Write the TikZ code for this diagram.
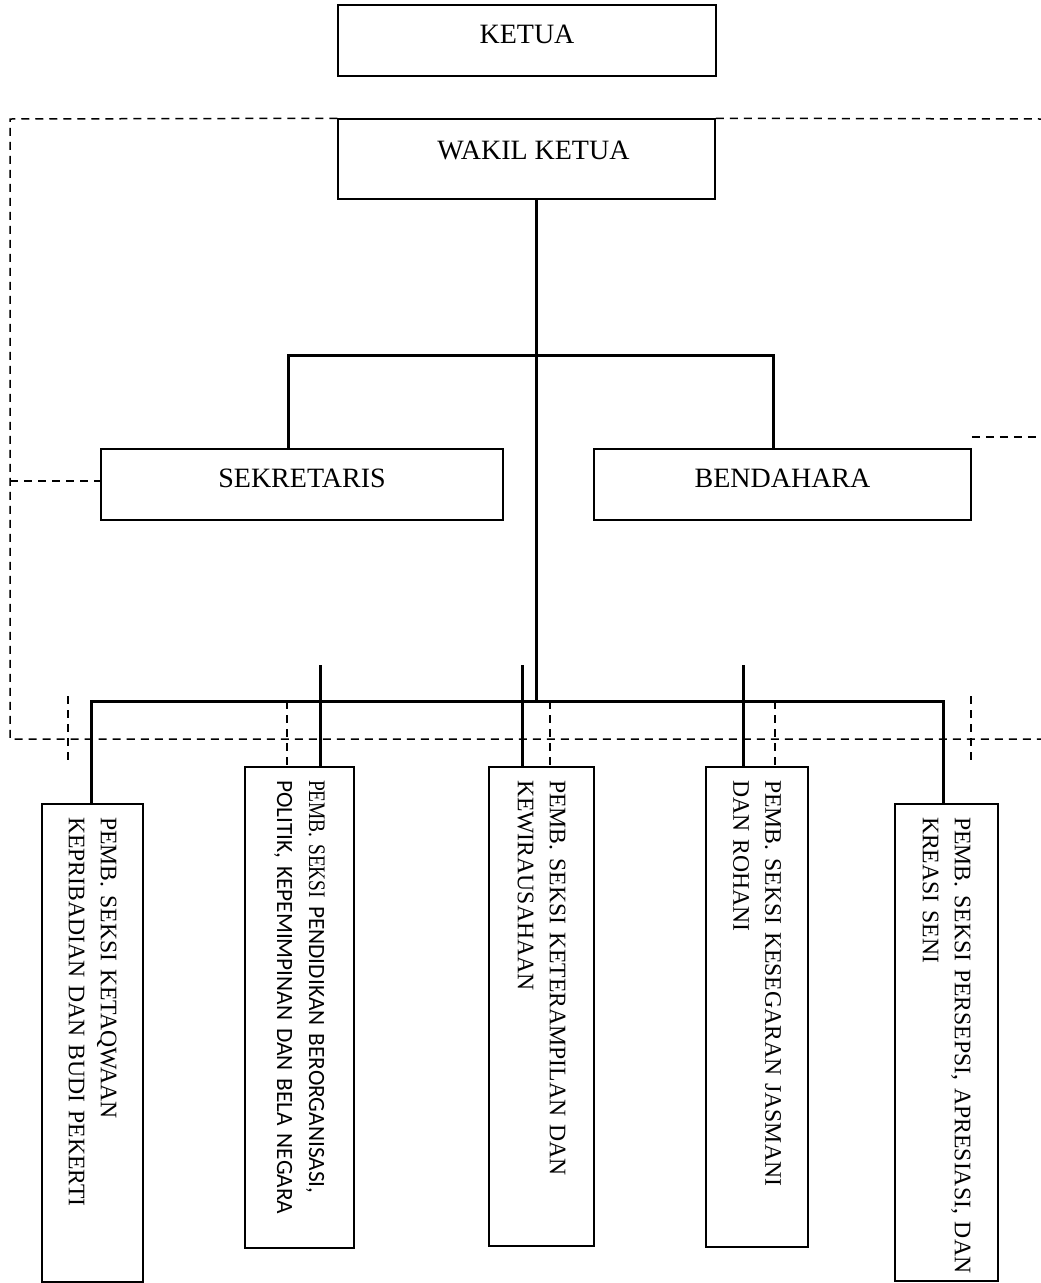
\documentclass[tikz,border=0pt]{standalone}
\usepackage{graphicx}
\usepackage{fontspec}
\setmainfont{Liberation Serif}
\newfontfamily\carl{Carlito}
\begin{document}
\frenchspacing
\begin{tikzpicture}[x=1pt,y=-1pt,
  hbox/.style={draw, line width=1.5pt, inner sep=0pt, font=\fontsize{28}{32}\selectfont, text height=19.5pt, text depth=13.5pt},
  vbox/.style={draw, line width=1.5pt, rotate=-90, inner xsep=13pt, inner ysep=0pt, align=left, font=\frenchspacing\fontsize{23.7}{32}\selectfont},
  conn/.style={line width=3pt},
  dsh/.style={line width=1.5pt, dash pattern=on 8pt off 6pt}]
\useasboundingbox (0,0) rectangle (1041,1283);

% horizontal boxes
\node[hbox, minimum width=378pt, minimum height=71pt, text depth=13pt] (ketua) at (527,40.5) {KETUA};
\node[hbox, minimum width=377pt, minimum height=80pt, text depth=18.5pt] (wakil) at (526.5,159) {\hspace*{14pt}WAKIL KETUA};
\node[hbox, minimum width=402pt, minimum height=71pt] (sek) at (302,484.5) {SEKRETARIS};
\node[hbox, minimum width=377pt, minimum height=71pt] (ben) at (782.5,484.5) {BENDAHARA};

% vertical boxes
\node[vbox, minimum width=478pt, minimum height=101pt, text width=452pt] (b1) at (92.5,1043)
  {\mbox{PEMB. SEKSI KETAQWAAN}\\\mbox{KEPRIBADIAN DAN BUDI PEKERTI}};
\node[vbox, minimum width=481pt, minimum height=109pt, text width=455pt] (b2) at (299.5,1007.5)
  {\mbox{\scalebox{0.82}[1]{PEMB. SEKSI} {\carl\fontsize{23.3}{32}\selectfont PENDIDIKAN BERORGANISASI,}}\\\mbox{\carl\fontsize{23.3}{32}\selectfont POLITIK, KEPEMIMPINAN DAN BELA NEGARA}};
\node[vbox, minimum width=479pt, minimum height=105pt, text width=453pt] (b3) at (541.5,1006.5)
  {\mbox{PEMB. SEKSI KETERAMPILAN DAN}\\\mbox{KEWIRAUSAHAAN}};
\node[vbox, minimum width=480pt, minimum height=102pt, text width=454pt] (b4) at (757,1007)
  {\mbox{PEMB. SEKSI KESEGARAN JASMANI}\\\mbox{DAN ROHANI}};
\node[vbox, minimum width=477pt, minimum height=103pt, text width=451pt] (b5) at (946.5,1042.5)
  {\mbox{PEMB. SEKSI PERSEPSI, APRESIASI, DAN}\\\mbox{KREASI SENI}};

% solid connectors
\coordinate (trunk) at (536,701);
\draw[conn] (trunk |- wakil.south) -- (trunk);
\coordinate (sl) at (288,355);
\coordinate (sr) at (773,355);
\draw[conn] (sl |- sek.north) -- (sl) -- (sr) -- (sr |- ben.north);
\coordinate (bl) at (91,701);
\coordinate (br) at (943,701);
\draw[conn] (bl |- b1.west) -- (bl) -- (br) -- (br |- b5.west);
\coordinate (s2) at (320,665);
\coordinate (s3) at (522,665);
\coordinate (s4) at (743,665);
\draw[conn] (s2) -- (s2 |- b2.west);
\draw[conn] (s3) -- (s3 |- b3.west);
\draw[conn] (s4) -- (s4 |- b4.west);

% dashed lines
\coordinate (lt) at (10,119);
\coordinate (lb) at (10,739);
\coordinate (rb) at (1041,739);
\coordinate (rt) at (1041,119);
\draw[dsh] (wakil.north west) -- (lt) -- (lb) -- (rb);
\draw[dsh] (wakil.north east) -- (rt);
\coordinate (ls) at (10,481);
\draw[dsh] (ls) -- (ls -| sek.west);
\coordinate (rs) at (1041,437);
\draw[dsh] (rs -| ben.east) -- (rs);
\coordinate (d2) at (287,701);
\coordinate (d3) at (550,701);
\coordinate (d4) at (775,701);
\draw[dsh] (d2) -- (d2 |- b2.west);
\draw[dsh] (d3) -- (d3 |- b3.west);
\draw[dsh] (d4) -- (d4 |- b4.west);
\coordinate (t1a) at (68,696);
\coordinate (t1b) at (68,760);
\coordinate (t5a) at (971,696);
\coordinate (t5b) at (971,760);
\draw[dsh] (t1a) -- (t1b);
\draw[dsh] (t5a) -- (t5b);
\end{tikzpicture}
\end{document}
